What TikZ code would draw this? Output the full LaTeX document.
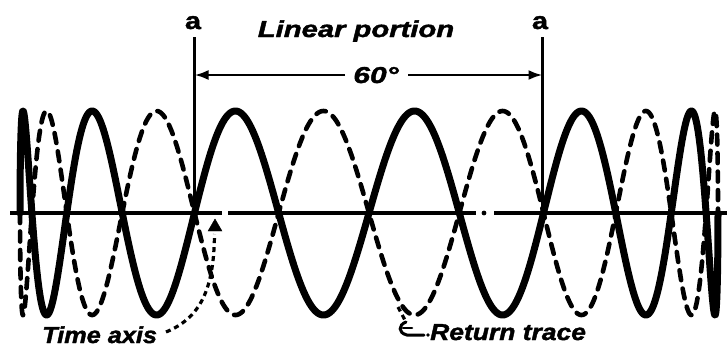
\documentclass[tikz,border=0pt]{standalone}
\usepackage{fontspec}
\usepackage{graphicx}
\setmainfont{Liberation Sans}
\newfontfamily\heavyfont[FakeBold=1.6]{Liberation Sans}
\usetikzlibrary{arrows.meta}
\begin{document}
\begin{tikzpicture}[x=1pt,y=-1pt,
  lbl/.style={inner sep=0pt, font=\heavyfont\bfseries\itshape\fontsize{23}{23}\selectfont},
  alabel/.style={inner sep=0pt, font=\heavyfont\bfseries\fontsize{24}{24}\selectfont},
  trace/.style={line width=7pt, line join=round, line cap=round},
  rettrace/.style={line width=4.6pt, line cap=round, dash pattern=on 10pt off 8.5pt},
  axisline/.style={line width=3.2pt},
  guide/.style={line width=3pt},
  dim/.style={line width=2.6pt, -{Latex[length=14pt,width=10pt]}},
  leader/.style={line width=3.2pt, dash pattern=on 5pt off 4pt}
]
\useasboundingbox (0,0) rectangle (727,349);
% time axis
\coordinate (ax0) at (10,213);
\coordinate (ax1) at (222,213);
\coordinate (ax2) at (228,213);
\coordinate (ax3) at (476,213);
\coordinate (ax4) at (494,213);
\coordinate (ax5) at (727,213);
\draw[axisline] (ax0) -- (ax1);
\draw[axisline] (ax2) -- (ax3);
\fill (484,213) circle (2.4pt);
\draw[axisline] (ax4) -- (ax5);
% forward trace (solid)
\draw[trace] plot[domain=-90:90, samples=900, smooth, variable=\t]
  ({369+349*sin(\t)},{213-102*sin(12*\t)});
% return trace (dashed)
\draw[rettrace] plot[domain=-90:90, samples=900, smooth, variable=\t]
  ({369+349*sin(\t)},{213+102*sin(12*\t)});
% a-a markers
\node[alabel, anchor=base] (aL) at (193,29) {\scalebox{1.2}[1]{a}};
\node[alabel, anchor=base] (aR) at (540,29) {\scalebox{1.2}[1]{a}};
\coordinate (aLtop) at (194.5,37);
\coordinate (aLbot) at (194.5,213);
\coordinate (aRtop) at (542.5,37);
\coordinate (aRbot) at (542.5,213);
\draw[guide] (aLtop) -- (aLbot);
\draw[guide] (aRtop) -- (aRbot);
\node[lbl, anchor=base] (lin) at (356,37) {\scalebox{1.27}[1]{Linear portion}};
\node[lbl, anchor=base] (sixty) at (376,83) {\scalebox{1.3}[1]{60°}};
\coordinate (dL) at (194.5,75);
\coordinate (dR) at (542.5,75);
\coordinate (sL) at (345,75);
\coordinate (sR) at (408,75);
\draw[dim] (sL) -- (dL);
\draw[dim] (sR) -- (dR);
% Time axis label and leader
\node[lbl, anchor=base west] (time) at (42,343) {\scalebox{1.1}[1]{Time axis}};
\coordinate (tstart) at (166,332);
\coordinate (ttip) at (215,219);
\draw[leader] (tstart) .. controls (200,318) and (214,290) .. (214.5,234);
\draw[fill] (ttip) -- (208,231) -- (222,231) -- cycle;
% Return trace label and hook
\node[lbl, anchor=base west] (ret) at (430,340) {\scalebox{1.15}[1]{Return trace}};
\coordinate (rstart) at (398,307);
\coordinate (rmid) at (406,322);
\draw[leader] (rstart) -- (rmid);
\draw[line width=3pt, line cap=round] (rmid) .. controls (398,325) and (398,333) .. (407,335) -- (424,335);
\draw[line width=2.6pt, line cap=round] (403,328) -- (412,328);
\fill (428,335) circle (1.8pt);
\end{tikzpicture}
\end{document}
